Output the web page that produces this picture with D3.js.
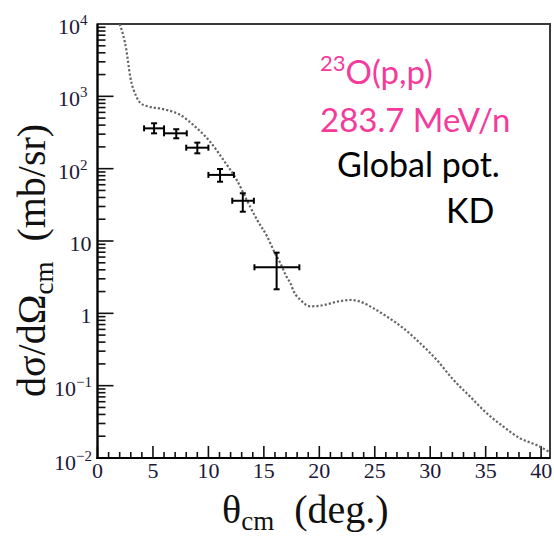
<!DOCTYPE html>
<html>
<head>
<meta charset="utf-8">
<script src="https://cdn.jsdelivr.net/npm/d3@7"></script>
<style>
  html, body { margin: 0; padding: 0; background: #fff; }
  svg { display: block; }
</style>
</head>
<body>
<div id="chart"></div>
<script>
// 23O(p,p) elastic cross section vs. angle, KD global potential + data.

// ---- calculation (dotted curve): angle in deg, dσ/dΩ in mb/sr
const curveDeg = [2.0, 2.6, 2.95, 3.5, 3.9, 4.5, 5.0, 5.6, 6.2, 7.4, 8.9, 10.15, 11.35, 12.55, 13.45,
  14.4, 15.3, 16.0, 16.5, 17.0, 17.4, 17.7, 18.3, 19.2, 20.4, 21.6, 22.8, 23.7, 24.9, 26.1, 27.6,
  29.1, 30.6, 32.1, 33.6, 35.1, 36.6, 38.1, 39.6, 40.7];
const curveXs = [10000, 4400, 1870, 1000, 800, 730, 700, 680, 650, 560, 370, 236, 132, 70, 37,
  19.5, 11.5, 6.8, 4.9, 3.3, 2.6, 2.0, 1.53, 1.25, 1.30, 1.45, 1.53, 1.45, 1.17, 0.90, 0.62,
  0.385, 0.226, 0.120, 0.0705, 0.0415, 0.0271, 0.0187, 0.0151, 0.0122];

// ---- measured points
const dataDeg = [5.1, 7.1, 9.0, 11.05, 13.1, 16.15];
const dataDegLo = [4.2, 6.0, 8.0, 10.0, 12.15, 14.15];
const dataDegHi = [6.0, 8.05, 10.0, 12.3, 14.1, 18.2];
const dataXs = [361, 308, 195, 82, 36, 4.33];
const dataXsLo = [308, 263, 163, 66, 25.4, 2.15];
const dataXsHi = [424, 351, 229, 99, 45.7, 6.9];

// ---- axes
const xMajor = [0, 5, 10, 15, 20, 25, 30, 35, 40];
const yDecades = [-2, -1, 0, 1, 2, 3, 4];
const yLabels = { '-2': ['10', '-2'], '-1': ['10', '-1'], '0': ['1', ''], '1': ['10', ''],
  '2': ['10', '2'], '3': ['10', '3'], '4': ['10', '4'] };

// ---- annotation
const labelNucleus = ['23', 'O(p,p)'];
const labelEnergy = '283.7 MeV/n';
const labelPot = 'Global pot.';
const labelModel = 'KD';

const W = 554, H = 539;
const x0 = 97.5, x1 = 550, yTop = 24, yBot = 458;
const serif = '"Liberation Serif", "Times New Roman", serif';
const sans = 'Lato, "Open Sans", sans-serif';
const tickCol = '#1c1838';

const svg = d3.select('#chart').append('svg').attr('width', W).attr('height', H);

const x = d3.scaleLinear().domain([0, 40.8]).range([x0, x1]);
const y = d3.scaleLog().domain([1e-2, 1e4]).range([yBot, yTop]);

/* ---------------- ticks ---------------- */

const g = svg.append('g');

// x ticks: every degree, long ones every 5
const xMinor = d3.range(0, 41);
g.selectAll('line.xt').data(xMinor).join('line')
  .attr('class', 'xt')
  .attr('x1', d => x(d)).attr('x2', d => x(d))
  .attr('y1', yBot).attr('y2', d => yBot - (d % 5 === 0 ? 12 : 6))
  .attr('stroke', '#111').attr('stroke-width', 1.6);

// y ticks: 1..9 x 10^n
const yTicks = [];
for (const p of yDecades.slice(0, -1)) {
  for (let m = 1; m < 10; m++) yTicks.push({ v: m * Math.pow(10, p), major: m === 1 });
}
yTicks.push({ v: 1e4, major: true });
g.selectAll('line.yt').data(yTicks).join('line')
  .attr('class', 'yt')
  .attr('x1', x0).attr('x2', d => x0 + (d.major ? 16 : 8))
  .attr('y1', d => y(d.v)).attr('y2', d => y(d.v))
  .attr('stroke', '#111').attr('stroke-width', 1.6);

// x tick labels
g.selectAll('text.xl').data(xMajor).join('text')
  .attr('class', 'xl')
  .attr('x', d => x(d)).attr('y', yBot + 20)
  .attr('text-anchor', 'middle')
  .attr('font-family', serif).attr('font-size', 22).attr('fill', tickCol)
  .text(d => d);

// y tick labels: base + superscript
const yl = g.selectAll('text.yl').data(yDecades).join('text')
  .attr('class', 'yl')
  .attr('y', d => y(Math.pow(10, d)) + (d === -2 ? 12 : 10))
  .attr('font-family', serif).attr('font-size', 22).attr('fill', tickCol);
yl.each(function (d) {
  const [base, sup] = yLabels[d];
  const t = d3.select(this);
  if (sup) {
    t.attr('x', sup.length > 1 ? 54 : 58);
    t.append('tspan').text(base);
    t.append('tspan').attr('font-size', 15).attr('dy', -9).text(sup.replace('-', '\u2212'));
  } else {
    t.attr('x', x0 - 6).attr('text-anchor', 'end').text(base);
  }
});

/* ---------------- frame ---------------- */

svg.append('rect')
  .attr('x', x0).attr('y', yTop).attr('width', x1 - x0).attr('height', yBot - yTop)
  .attr('fill', 'none').attr('stroke', '#3a3a3a').attr('stroke-width', 2);
svg.append('line').attr('x1', x0).attr('x2', x0).attr('y1', yTop).attr('y2', yBot + 1)
  .attr('stroke', '#000').attr('stroke-width', 2);
svg.append('line').attr('x1', x0 - 1).attr('x2', x1).attr('y1', yBot).attr('y2', yBot)
  .attr('stroke', '#000').attr('stroke-width', 2);

/* ---------------- curve ---------------- */

svg.append('clipPath').attr('id', 'plot').append('rect')
  .attr('x', x0).attr('y', yTop).attr('width', x1 - x0).attr('height', yBot - yTop);

const line = d3.line()
  .x(i => x(curveDeg[i])).y(i => y(curveXs[i]))
  .curve(d3.curveMonotoneX);
svg.append('path')
  .attr('clip-path', 'url(#plot)')
  .attr('d', line(d3.range(curveDeg.length)))
  .attr('fill', 'none').attr('stroke', '#666').attr('stroke-width', 2.2)
  .attr('stroke-dasharray', '2.2,2');

/* ---------------- data points ---------------- */

const cap = 3;
const pts = svg.append('g').attr('stroke', '#000').attr('stroke-width', 2);
dataDeg.forEach((d, i) => {
  const cx = x(d), cy = y(dataXs[i]);
  const xl = x(dataDegLo[i]), xh = x(dataDegHi[i]);
  const yl2 = y(dataXsLo[i]), yh = y(dataXsHi[i]);
  const p = pts.append('g');
  p.append('line').attr('x1', xl).attr('x2', xh).attr('y1', cy).attr('y2', cy);
  p.append('line').attr('x1', cx).attr('x2', cx).attr('y1', yl2).attr('y2', yh);
  p.append('line').attr('x1', xl).attr('x2', xl).attr('y1', cy - cap).attr('y2', cy + cap);
  p.append('line').attr('x1', xh).attr('x2', xh).attr('y1', cy - cap).attr('y2', cy + cap);
  p.append('line').attr('x1', cx - cap).attr('x2', cx + cap).attr('y1', yl2).attr('y2', yl2);
  p.append('line').attr('x1', cx - cap).attr('x2', cx + cap).attr('y1', yh).attr('y2', yh);
});

/* ---------------- axis titles ---------------- */

const xt = svg.append('text')
  .attr('x', 222).attr('y', 523)
  .attr('font-family', serif).attr('font-size', 40).attr('fill', '#111');
xt.append('tspan').text('\u03b8');
xt.append('tspan').attr('font-size', 27).attr('dy', 7).text('cm');
xt.append('tspan').attr('dy', -7).text('\u00a0\u00a0(deg.)');

const ytl = svg.append('text')
  .attr('transform', 'translate(45,397) rotate(-90)')
  .attr('font-family', serif).attr('font-size', 40).attr('fill', '#111');
ytl.append('tspan').text('d\u03c3/d\u03a9');
ytl.append('tspan').attr('font-size', 27).attr('dy', 8).text('cm');
ytl.append('tspan').attr('dy', -8).text('\u00a0\u00a0(mb/sr)');

/* ---------------- annotation ---------------- */

const pink = '#f43b9c';
const ann = svg.append('g').attr('font-family', sans);
const nuc = ann.append('text').attr('x', 320).attr('y', 84).attr('fill', pink).attr('font-size', 33);
nuc.append('tspan').attr('font-size', 22).attr('dy', -13).text(labelNucleus[0]);
nuc.append('tspan').attr('dy', 13).text(labelNucleus[1]);
ann.append('text').attr('x', 320).attr('y', 132).attr('fill', pink).attr('font-size', 33).text(labelEnergy);
ann.append('text').attr('x', 337).attr('y', 177).attr('fill', '#000').attr('font-size', 34).text(labelPot);
ann.append('text').attr('x', 446).attr('y', 223).attr('fill', '#000').attr('font-size', 34).text(labelModel);
</script>
</body>
</html>
